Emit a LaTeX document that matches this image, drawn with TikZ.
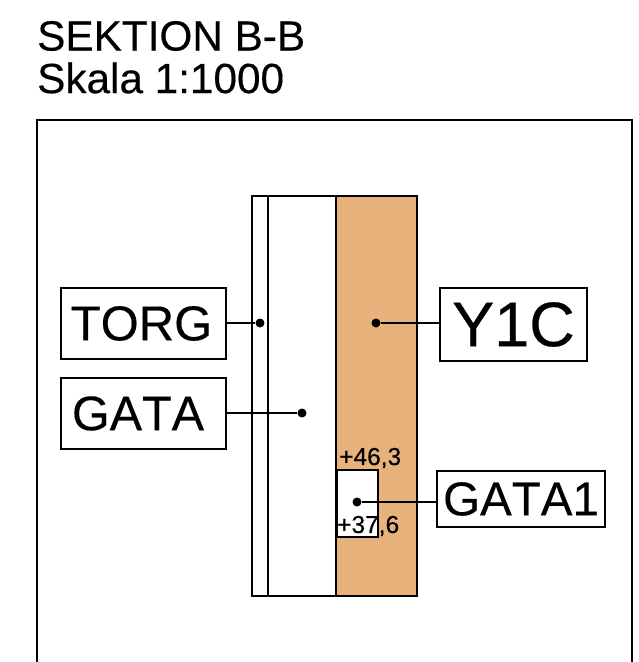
\documentclass[tikz,border=0pt]{standalone}
\usepackage{fontspec}
\setmainfont[FakeBold=0.35,Kerning=Off]{Liberation Sans}
\definecolor{sektiontan}{RGB}{232,178,125}
\tikzset{
  labelbox/.style={draw, line width=1.4pt, inner sep=0pt},
  punkt/.style={circle, fill=black, inner sep=0pt, minimum size=9pt},
  niva/.style={inner sep=0pt, font=\fontsize{24.5}{24.5}\selectfont}
}
\begin{document}
\begin{tikzpicture}[x=1pt, y=-1pt, line width=1.4pt]
      \useasboundingbox (0,0) rectangle (638,662);

      \path[fill=sektiontan] (336,196) rectangle (417,596);
      \path[fill=white] (337,470) rectangle (378,537);

      \draw (37,662) -- (37,120) -- (632,120) -- (632,662);
      \draw (252,196) rectangle (417,596);
      \draw (268,196) -- (268,596);
      \draw (336,196) -- (336,596);
      \draw (337,470) rectangle (378,537);

      \node[inner sep=0pt, anchor=west, font=\fontsize{42.3}{42.3}\selectfont] (titel) at (36.5,36) {SEKTION B-B};
      \node[inner sep=0pt, anchor=west, font=\fontsize{42.3}{42.3}\selectfont] (skala) at (36.5,78) {Skala 1:1000};

      \begin{scope}[every node/.style={labelbox}]
        \node[minimum width=165pt, minimum height=71pt, font=\fontsize{49}{49}\selectfont] (torg)  at (143.5,323.5) {\hspace{-4pt}TORG};
        \node[minimum width=165pt, minimum height=71pt, font=\fontsize{48.5}{48.5}\selectfont] (gata)  at (143.5,413.5) {\hspace{-11pt}GATA};
        \node[minimum width=147pt, minimum height=73pt, font=\fontsize{63}{63}\selectfont] (y1c)   at (513.5,324.5) {Y1C};
        \node[minimum width=168pt, minimum height=56pt, font=\fontsize{47.5}{47.5}\selectfont] (gata1) at (521,499) {GATA1};
      \end{scope}

      \begin{scope}[every node/.style={punkt}]
        \node (ptorg)  at (260,323) {};
        \node (pgata)  at (302,413) {};
        \node (py1c)   at (376,323) {};
        \node (pgata1) at (357,502) {};
      \end{scope}

      \draw (torg.east |- ptorg) -- (ptorg);
      \draw (gata.east |- pgata) -- (pgata);
      \draw (y1c.west |- py1c) -- (py1c);
      \draw (gata1.west |- pgata1) -- (pgata1);

      \begin{scope}[every node/.style={niva, anchor=west}]
        \node (niva1) at (338.5,458) {+46,3};
        \node (niva2) at (336.5,526) {+37,6};
      \end{scope}

    \end{tikzpicture}
\end{document}
